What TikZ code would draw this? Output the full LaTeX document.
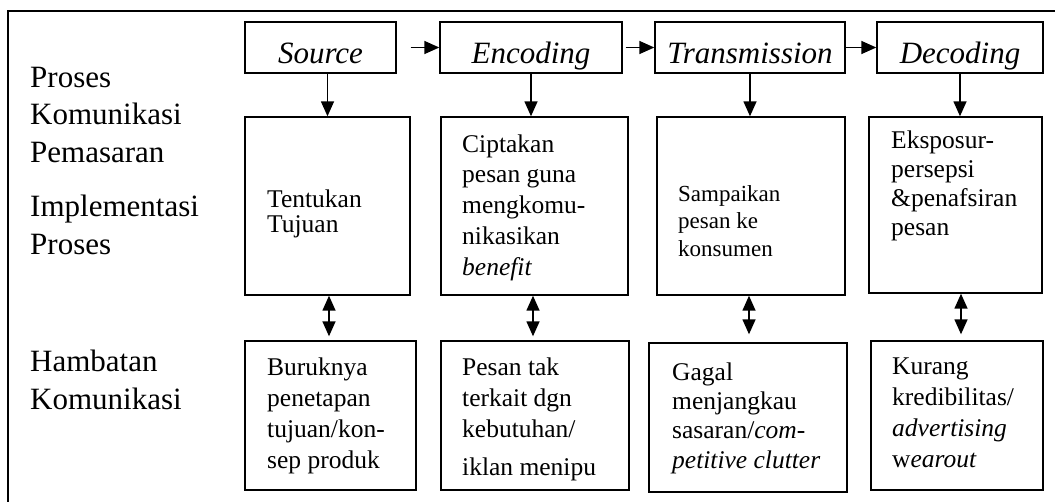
\documentclass[tikz,border=0pt]{standalone}
\usepackage{fontspec}
\setmainfont{Liberation Serif}
\usetikzlibrary{arrows.meta,calc}
\begin{document}
\begin{tikzpicture}[x=1pt,y=-1pt,
  frame/.style={line width=1.4pt},
  box/.style={draw,line width=1.4pt,inner sep=0pt},
  headbox/.style={box,font=\fontsize{31}{37}\selectfont\itshape,text height=31pt,text depth=0pt},
  txt/.style={anchor=base west,align=left,inner sep=0pt},
  lbl/.style={txt,font=\fontsize{31}{37.5}\selectfont},
  btxt/.style={txt,font=\fontsize{25.5}{31}\selectfont},
  tip/.tip={Triangle[length=15pt 0,width=13pt 0]},
  arr/.style={line width=1.5pt,-tip},
  darr/.style={line width=1.5pt,tip-tip}]
\useasboundingbox (0,0) rectangle (1055,501);
% outer frame (right and bottom edges lie outside the picture)
\draw[frame] (8,530) -- (8,11) -- (1080,11);

% left labels (anchored at the baseline of their last line)
\node[lbl] (l1) at (30,162) {Proses\\Komunikasi\\Pemasaran};
\node[lbl] (l2) at (30,254) {Implementasi\\Proses};
\node[lbl] (l3) at (30,409) {Hambatan\\Komunikasi};

% top row
\node[headbox,minimum width=151pt,minimum height=51pt] (s0) at (320.5,47.5) {Source};
\node[headbox,minimum width=182pt,minimum height=51pt] (e0) at (531,47.5) {Encoding};
\node[headbox,minimum width=190pt,minimum height=51pt] (t0) at (750,47.5) {Transmission};
\node[headbox,minimum width=166pt,minimum height=51pt] (d0) at (960,47.5) {Decoding};

% middle row
\node[box,minimum width=165pt,minimum height=178pt] (s1) at (327.5,206) {};
\node[box,minimum width=187pt,minimum height=178pt] (e1) at (534.5,206) {};
\node[box,minimum width=188pt,minimum height=178pt] (t1) at (751,206) {};
\node[box,minimum width=173pt,minimum height=176pt] (d1) at (955.5,205) {};

% bottom row
\node[box,minimum width=171pt,minimum height=149pt] (s2) at (330.5,415.5) {};
\node[box,minimum width=188pt,minimum height=149pt] (e2) at (535,415.5) {};
\node[box,minimum width=198pt,minimum height=149pt] (t2) at (748,417.5) {};
\node[box,minimum width=172pt,minimum height=149pt] (d2) at (957,415.5) {};

% texts in the boxes (anchored at the baseline of their last line)
\node[btxt,font=\fontsize{25.5}{25}\selectfont] (s1t) at (267,232) {Tentukan\\Tujuan};
\node[btxt,font=\fontsize{25.5}{30.7}\selectfont] (e1t) at (462,275) {Ciptakan\\pesan guna\\mengkomu-\\nikasikan\\\textit{benefit}};
\node[btxt,font=\fontsize{23}{27.5}\selectfont] (t1t) at (678,256) {Sampaikan\\pesan ke\\konsumen};
\node[btxt,font=\fontsize{25.5}{29}\selectfont] (d1t) at (891,235) {Eksposur-\\persepsi\\\&penafsiran\\pesan};

\node[btxt] (s2t) at (267,468) {Buruknya\\penetapan\\tujuan/kon-\\sep produk};
\node[btxt] (e2t) at (462,475) {Pesan tak\\terkait dgn\\kebutuhan/\\[7pt]iklan menipu};
\node[btxt,font=\fontsize{25.5}{29.3}\selectfont] (t2t) at (672,468) {Gagal\\menjangkau\\sasaran/\textit{com-}\\\textit{petitive clutter}};
\node[btxt,font=\fontsize{25.5}{30.7}\selectfont] (d2t) at (892,467) {Kurang\\kredibilitas/\\\textit{advertising}\\w\textit{earout}};

% connectors along the top row
\draw[arr] ([xshift=14pt]s0.east) -- (e0.west);
\draw[arr] ([xshift=3pt]e0.east) -- (t0.west);
\draw[arr] (t0.east) -- (d0.west);

% down arrows
\draw[arr] (s0.south -| s1.north) -- (s1.north);
\draw[arr] (e0.south) -- (e0.south |- e1.north);
\draw[arr] (t0.south) -- (t0.south |- t1.north);
\draw[arr] (d0.south) -- (d0.south |- d1.north);

% double arrows
\draw[darr] ([xshift=1.5pt]s1.south) -- ([xshift=1.5pt,yshift=4pt]s1.south |- s2.north);
\draw[darr] ([xshift=-1.5pt]e1.south) -- ([xshift=-1.5pt,yshift=4pt]e1.south |- e2.north);
\draw[darr] ([xshift=-2pt]t1.south) -- ([xshift=-2pt,yshift=8pt]t1.south |- t2.north);
\draw[darr] ([xshift=5.5pt]d1.south) -- ([xshift=5.5pt,yshift=6pt]d1.south |- d2.north);
\end{tikzpicture}
\end{document}
